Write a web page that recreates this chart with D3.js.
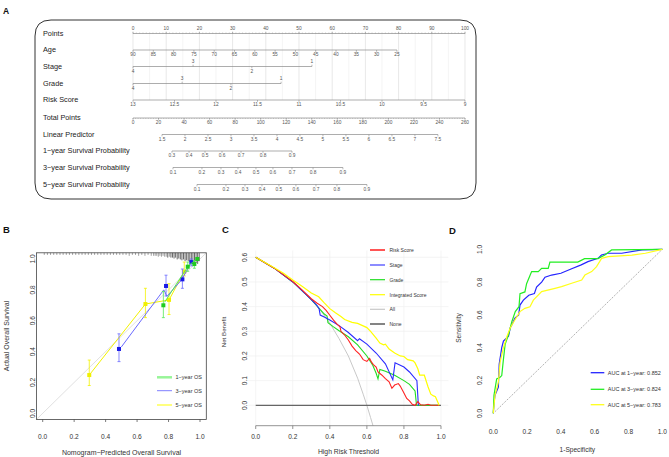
<!DOCTYPE html>
<html><head><meta charset="utf-8">
<script src="https://cdn.jsdelivr.net/npm/d3@7"></script>
<style>body{margin:0;background:#fff}svg{display:block}text{font-family:"Liberation Sans",Arial,sans-serif}</style>
</head><body><svg id="c" width="669" height="457"></svg>
<script>
// ---------------- DATA ----------------
// Panel A: nomogram
const nomoRows = ["Points","Age","Stage","Grade","Risk Score","Total Points","Linear Predictor",
  "1\u2212year Survival Probability","3\u2212year Survival Probability","5\u2212year Survival Probability"];
const pointsTicks = [0,10,20,30,40,50,60,70,80,90,100];
const ageTicks = [90,85,80,75,70,65,60,55,50,45,40,35,30,25];
const agePtsRange = [0,79.5];           // points at age 90 and at age 25
const stageLabels = ["4","3","2","1"];
const stagePts = [0,18.1,35.8,53.9];
const gradeLabels = ["4","3","2","1"];
const gradePts = [0,14.8,29.5,44.6];
const riskTicks = [13,12.5,12,11.5,11,10.5,10,9.5,9];
const totalTicks = [0,20,40,60,80,100,120,140,160,180,200,220,240,260];
const lpTicks = [1.5,2,2.5,3,3.5,4,4.5,5,5.5,6,6.5,7,7.5];
const lpTotalRange = [22.7,238.8];      // total points at LP 1.5 and 7.5
const surv1Labels = ["0.3","0.4","0.5","0.6","0.7","0.8","0.9"];
const surv1Total  = [30.5,43.9,56.4,69.7,84.6,101.8,124.5];
const surv3Labels = ["0.1","0.2","0.3","0.4","0.5","0.6","0.7","0.8","0.9"];
const surv3Total  = [31.3,54.0,68.9,82.2,96.3,109.6,124.5,141.0,164.4];
const surv5Labels = ["0.1","0.2","0.3","0.4","0.5","0.6","0.7","0.8","0.9"];
const surv5Total  = [50.1,72.8,87.7,101.0,114.3,127.6,143.3,159.7,183.2];

// Panel B: calibration
const calTicks = [0,0.2,0.4,0.6,0.8,1.0];
const cal1Pred = [0.767,0.922,0.964,0.983], cal1Obs = [0.70,0.95,0.967,1.0], cal1Lo = [0.62,0.92,0.94,0.99], cal1Hi = [0.79,0.98,0.99,1.0];
const cal1LineX = [0.775,0.89,0.93,0.97], cal1LineY = [0.72,0.90,0.96,0.99];
const cal3Pred = [0.485,0.784,0.888,0.945], cal3Obs = [0.417,0.825,0.868,0.98], cal3Lo = [0.335,0.76,0.81,0.955], cal3Hi = [0.515,0.895,0.935,1.0];
const cal3LineX = [0.50,0.77,0.79,0.884,0.94], cal3LineY = [0.43,0.80,0.758,0.866,0.97];
const cal5Pred = [0.296,0.653,0.803,0.90], cal5Obs = [0.248,0.708,0.735,0.918], cal5Lo = [0.18,0.62,0.64,0.89], cal5Hi = [0.345,0.81,0.84,0.98];
const cal5LineX = [0.296,0.653,0.803,0.90], cal5LineY = [0.248,0.708,0.735,0.918];
const calLegend = ["1\u2212year OS","3\u2212year OS","5\u2212year OS"];
const rugX = [0.01,0.03,0.05,0.07,0.09,0.11,0.13,0.15,0.17,0.19,0.21,0.23,0.25,0.27,0.29,0.31,0.33,0.35,0.37,0.39,0.41,0.43,0.45,0.47,0.49,0.51,0.53,0.55,0.57,0.59,0.61,0.63,0.65,0.67,0.69,
  0.705,0.715,0.725,0.735,0.745,0.755,0.765,0.775,0.785,0.795,0.805,0.815,0.825,0.835,0.845,0.855,0.865,0.875,0.885,0.895,0.905,0.915,0.925,0.935,0.945,0.955,0.965,0.975,0.985,0.995];
const rugN = [1,1,1,1,1,1,1,1,1,1,1,1,1,1,1,1,1,1,1,1,1,1,1,1,1,1,1,2,1,1,2,1,2,1,2,
  2,2,2,3,2,3,2,3,3,4,3,4,4,5,4,6,5,6,7,6,8,7,8,9,10,9,11,10,11,8];

// Panel C: decision curves
const dcaTicksX = [0,0.2,0.4,0.6,0.8,1.0];
const dcaTicksY = [0,0.1,0.2,0.3,0.4,0.5,0.6];
const dcaNames = ["Risk Score","Stage","Grade","Integrated Score","All","None"];
const riskT = [0,0.1,0.2,0.25,0.3,0.33,0.36,0.38,0.40,0.42,0.44,0.455,0.46,0.48,0.50,0.52,0.54,0.56,0.58,0.60,0.615,0.625,0.635,0.65,0.66,0.68,0.70,0.72,0.735,0.75,0.77,0.78,0.80,0.815,0.83,0.845,0.86,0.875,0.89,0.91,0.93,0.945,0.99];
const riskNB = [0.6,0.556,0.502,0.468,0.432,0.415,0.400,0.385,0.365,0.345,0.328,0.318,0.300,0.285,0.265,0.240,0.222,0.208,0.185,0.178,0.19,0.175,0.165,0.155,0.135,0.123,0.108,0.095,0.069,0.082,0.088,0.078,0.050,0.028,0.018,0.004,0.0,0.015,0.002,0.0,0.004,0.0,0.0];
const stageT = [0,0.1,0.2,0.25,0.3,0.33,0.342,0.348,0.37,0.40,0.45,0.50,0.55,0.56,0.60,0.65,0.70,0.74,0.752,0.80,0.83,0.87,0.878,0.88];
const stageNB = [0.6,0.556,0.50,0.465,0.428,0.405,0.392,0.366,0.358,0.346,0.323,0.295,0.262,0.270,0.248,0.212,0.168,0.103,0.172,0.155,0.135,0.10,0.0,0.0];
const gradeT = [0,0.1,0.2,0.25,0.3,0.34,0.37,0.385,0.39,0.42,0.45,0.50,0.55,0.60,0.63,0.65,0.66,0.67,0.70,0.75,0.80,0.83,0.86,0.868,0.99];
const gradeNB = [0.6,0.556,0.50,0.465,0.428,0.395,0.37,0.362,0.335,0.318,0.302,0.278,0.245,0.200,0.165,0.130,0.107,0.145,0.138,0.122,0.100,0.085,0.058,0.0,0.0];
const integT = [0,0.1,0.15,0.2,0.25,0.3,0.34,0.37,0.40,0.43,0.46,0.48,0.52,0.55,0.58,0.60,0.62,0.65,0.67,0.69,0.70,0.72,0.75,0.78,0.80,0.82,0.85,0.86,0.875,0.885,0.91,0.93,0.945,0.96,0.97,0.99];
const integNB = [0.6,0.558,0.535,0.508,0.483,0.455,0.44,0.415,0.392,0.375,0.36,0.348,0.336,0.332,0.322,0.315,0.30,0.272,0.252,0.245,0.248,0.228,0.212,0.20,0.198,0.185,0.180,0.172,0.148,0.122,0.122,0.075,0.045,0.038,0.035,0.0];
const allT = [0,0.1,0.2,0.3,0.35,0.4,0.45,0.5,0.55,0.58,0.6,0.62,0.64];
const allNB = [0.6,0.556,0.5,0.43,0.385,0.333,0.27,0.2,0.11,0.045,0,-0.05,-0.1];
const noneT = [0,1], noneNB = [0,0];

// Panel D: ROC
const rocTicks = [0,0.2,0.4,0.6,0.8,1.0];
const roc1FPR = [0,0.004,0.01,0.03,0.035,0.05,0.06,0.07,0.09,0.10,0.11,0.128,0.15,0.158,0.178,0.21,0.243,0.256,0.286,0.306,0.345,0.40,0.46,0.52,0.56,0.62,0.64,0.68,0.76,0.88,1];
const roc1TPR = [0,0.06,0.11,0.16,0.30,0.40,0.44,0.45,0.47,0.52,0.54,0.58,0.60,0.66,0.69,0.72,0.73,0.77,0.80,0.83,0.843,0.854,0.88,0.905,0.925,0.945,0.965,0.976,0.976,0.996,1];
const roc3FPR = [0,0.004,0.02,0.04,0.05,0.06,0.07,0.09,0.11,0.13,0.152,0.158,0.187,0.197,0.217,0.227,0.266,0.286,0.325,0.335,0.50,0.54,0.62,0.66,0.70,1];
const roc3TPR = [0,0.11,0.21,0.22,0.23,0.33,0.42,0.48,0.56,0.62,0.65,0.73,0.74,0.79,0.84,0.864,0.864,0.884,0.884,0.922,0.922,0.943,0.943,0.965,0.996,1];
const roc5FPR = [0,0.01,0.03,0.04,0.06,0.08,0.10,0.128,0.158,0.187,0.217,0.237,0.286,0.365,0.404,0.464,0.523,0.542,0.582,0.611,0.641,0.68,0.82,0.90,1];
const roc5TPR = [0,0.11,0.19,0.31,0.40,0.467,0.52,0.57,0.62,0.64,0.65,0.69,0.742,0.762,0.772,0.793,0.813,0.843,0.864,0.894,0.945,0.955,0.965,0.976,1];
const rocLegend = ["AUC at 1\u2212year: 0.852","AUC at 3\u2212year: 0.824","AUC at 5\u2212year: 0.783"];

// ---------------- DRAW ----------------
const svg = d3.select("#c");
svg.append("rect").attr("width",669).attr("height",457).attr("fill","#fff");
const zip = (a,b)=>a.map((v,i)=>[v,b[i]]);

function panelLabel(t,x,y,fs){
  svg.append("text").attr("x",x).attr("y",y).attr("font-size",fs).attr("font-weight","bold").attr("fill","#111").text(t);
}
panelLabel("A",3,14,8.5); panelLabel("B",3,233,9.5); panelLabel("C",222,233,9.5); panelLabel("D",449,234,9.5);

// ===== Panel A =====
const gA = svg.append("g");
// rounded frame
(function(){
  const x0=35,y0=20,x1=476,y1=199,r=16;
  gA.append("path").attr("d",`M${x0+r},${y0}H${x1-r}Q${x1},${y0} ${x1},${y0+r}V${y1-r}Q${x1},${y1} ${x1-r},${y1}H${x0+r}Q${x0},${y1} ${x0},${y1-r}V${y0+r}Q${x0},${y0} ${x0+r},${y0}Z`)
    .attr("fill","none").attr("stroke","#333").attr("stroke-width",1);
})();
const px = d3.scaleLinear().domain([0,100]).range([133,465]);
const tx = d3.scaleLinear().domain([0,260]).range([133,465]);
const rowY = [33.5,50,66.5,83.5,100,118,134.5,151,167.5,184.5];
const labY = [33,49,66,83,99.5,117,134,150,167,184];
nomoRows.forEach((r,i)=>{
  gA.append("text").attr("x",43).attr("y",labY[i]+2.6).attr("font-size",7.3).attr("fill","#222").text(r);
});
// vertical grid
const gridPts = d3.range(0,101,5);
gA.selectAll(".vg").data(gridPts).join("line")
  .attr("x1",d=>px(d)).attr("x2",d=>px(d)).attr("y1",rowY[0]).attr("y2",rowY[4])
  .attr("stroke",d=>d%10===0?"#d9d9d9":"#ececec").attr("stroke-width",0.6);

function nomoAxis(y, items, place, minor){
  const xs = items.map(d=>d.x);
  gA.append("line").attr("x1",d3.min(xs)).attr("x2",d3.max(xs)).attr("y1",y).attr("y2",y)
    .attr("stroke","#8a8a8a").attr("stroke-width",0.7);
  if(minor){
    minor.forEach(m=>gA.append("line").attr("x1",m).attr("x2",m).attr("y1",y).attr("y2",place==="above"?y-1:y+1)
      .attr("stroke","#999").attr("stroke-width",0.5));
  }
  items.forEach((d,i)=>{
    const above = place==="above" || (place==="alt" && i%2===1);
    gA.append("line").attr("x1",d.x).attr("x2",d.x).attr("y1",y).attr("y2",above?y-1.8:y+1.8)
      .attr("stroke","#888").attr("stroke-width",0.6);
    gA.append("text").attr("x",d.x).attr("y",above?y-3.6:y+6.2).attr("text-anchor","middle")
      .attr("font-size",4.8).attr("fill","#555").text(d.lab);
  });
}
nomoAxis(rowY[0], pointsTicks.map(v=>({lab:v,x:px(v)})), "above", d3.range(0,101,1).map(px));
const ageS = d3.scaleLinear().domain([ageTicks[0],ageTicks[ageTicks.length-1]]).range(agePtsRange);
nomoAxis(rowY[1], ageTicks.map(v=>({lab:v,x:px(ageS(v))})), "below");
nomoAxis(rowY[2], stageLabels.map((l,i)=>({lab:l,x:px(stagePts[i])})), "alt");
nomoAxis(rowY[3], gradeLabels.map((l,i)=>({lab:l,x:px(gradePts[i])})), "alt");
const riskS = d3.scaleLinear().domain([riskTicks[0],riskTicks[riskTicks.length-1]]).range([0,100]);
nomoAxis(rowY[4], riskTicks.map(v=>({lab:v,x:px(riskS(v))})), "below");
nomoAxis(rowY[5], totalTicks.map(v=>({lab:v,x:tx(v)})), "below", d3.range(0,261,2).map(tx));
const lpS = d3.scaleLinear().domain([lpTicks[0],lpTicks[lpTicks.length-1]]).range(lpTotalRange);
nomoAxis(rowY[6], lpTicks.map(v=>({lab:v,x:tx(lpS(v))})), "below");
nomoAxis(rowY[7], surv1Labels.map((l,i)=>({lab:l,x:tx(surv1Total[i])})), "below");
nomoAxis(rowY[8], surv3Labels.map((l,i)=>({lab:l,x:tx(surv3Total[i])})), "below");
nomoAxis(rowY[9], surv5Labels.map((l,i)=>({lab:l,x:tx(surv5Total[i])})), "below");

// ===== Panel B =====
const gB = svg.append("g");
const bx = d3.scaleLinear().domain([-0.04,1.04]).range([36.4,206.3]);
const by = d3.scaleLinear().domain([-0.04,1.04]).range([419.5,252.8]);
gB.append("line").attr("x1",bx(-0.04)).attr("y1",by(-0.04)).attr("x2",bx(1.04)).attr("y2",by(1.04))
  .attr("stroke","#d8d8d8").attr("stroke-width",0.8);
// riskdist spikes
rugX.forEach((x,i)=>{
  gB.append("line").attr("x1",bx(x)).attr("x2",bx(x)).attr("y1",252.8).attr("y2",252.8+1.2+rugN[i]*0.9)
    .attr("stroke",rugN[i]>3?"#444":"#888").attr("stroke-width",0.8);
});
const lineGen = d3.line();
function calSeries(pred,obs,lo,hi,lx,ly,col,lcol,pcol){
  gB.append("path").attr("d",lineGen(zip(lx,ly).map(d=>[bx(d[0]),by(d[1])]))).attr("fill","none")
    .attr("stroke",lcol).attr("stroke-width",1);
  pred.forEach((p,i)=>{
    gB.append("line").attr("x1",bx(p)).attr("x2",bx(p)).attr("y1",by(lo[i])).attr("y2",by(hi[i])).attr("stroke",lcol).attr("stroke-width",0.8);
    [lo[i],hi[i]].forEach(v=>gB.append("line").attr("x1",bx(p)-1.5).attr("x2",bx(p)+1.5).attr("y1",by(v)).attr("y2",by(v)).attr("stroke",lcol).attr("stroke-width",0.8));
    gB.append("rect").attr("x",bx(p)-2).attr("y",by(obs[i])-2).attr("width",4).attr("height",4).attr("fill",pcol);
  });
}
calSeries(cal5Pred,cal5Obs,cal5Lo,cal5Hi,cal5LineX,cal5LineY,"#ffff00","#f2f200","#f0f000");
calSeries(cal3Pred,cal3Obs,cal3Lo,cal3Hi,cal3LineX,cal3LineY,"#0000ff","#6a6aff","#1a1ae6");
calSeries(cal1Pred,cal1Obs,cal1Lo,cal1Hi,cal1LineX,cal1LineY,"#00ff00","#55e855","#1fcc1f");
gB.append("rect").attr("x",36.4).attr("y",252.8).attr("width",206.3-36.4).attr("height",419.5-252.8)
  .attr("fill","none").attr("stroke","#444").attr("stroke-width",0.8);
calTicks.forEach(t=>{
  gB.append("line").attr("x1",bx(t)).attr("x2",bx(t)).attr("y1",419.5).attr("y2",422).attr("stroke","#444").attr("stroke-width",0.7);
  gB.append("text").attr("x",bx(t)).attr("y",438.5).attr("text-anchor","middle").attr("font-size",6.6).attr("fill","#333").text(t.toFixed(1));
  gB.append("text").attr("transform",`translate(35.3,${by(t)}) rotate(-90)`).attr("text-anchor","middle").attr("font-size",6.6).attr("fill","#333").text(t.toFixed(1));
});
gB.append("text").attr("x",121.5).attr("y",454.5).attr("text-anchor","middle").attr("font-size",7).attr("fill","#333").text("Nomogram\u2212Predicted Overall Survival");
gB.append("text").attr("transform","translate(8.6,336) rotate(-90)").attr("text-anchor","middle").attr("font-size",7).attr("fill","#333").text("Actual Overall Survival");
const calLegCols = ["#98f598","#7f7fff","#ffff55"], calLegW=[2.5,1,1.5], calLegY=[377.3,390.7,405];
calLegend.forEach((l,i)=>{
  gB.append("line").attr("x1",157).attr("x2",172).attr("y1",calLegY[i]).attr("y2",calLegY[i]).attr("stroke",calLegCols[i]).attr("stroke-width",calLegW[i]);
  gB.append("text").attr("x",175.5).attr("y",calLegY[i]+2).attr("font-size",5.5).attr("fill","#333").text(l);
});

// ===== Panel C =====
const gC = svg.append("g");
const cx = d3.scaleLinear().domain([-0.04,1.04]).range([248.3,448.4]);
const cy = d3.scaleLinear().domain([0,0.6]).range([405.3,257.3]);
svg.append("clipPath").attr("id","clipC").append("rect").attr("x",248.3).attr("y",250.5).attr("width",200.1).attr("height",175.2);
dcaTicksX.forEach(t=>gC.append("line").attr("x1",cx(t)).attr("x2",cx(t)).attr("y1",250.5).attr("y2",425.7).attr("stroke","#efefef").attr("stroke-width",0.7));
dcaTicksY.forEach(t=>gC.append("line").attr("x1",248.3).attr("x2",448.4).attr("y1",cy(t)).attr("y2",cy(t)).attr("stroke","#efefef").attr("stroke-width",0.7));
const gCl = gC.append("g").attr("clip-path","url(#clipC)");
const dcaSeries = [[allT,allNB,"#c8c8c8",1],[noneT,noneNB,"#666",1.2],[gradeT,gradeNB,"#22dd22",1.1],[stageT,stageNB,"#2b2bff",1.1],[riskT,riskNB,"#ff2222",1.1],[integT,integNB,"#ffff00",1.2]];
dcaSeries.forEach(s=>{
  gCl.append("path").attr("d",lineGen(zip(s[0],s[1]).map(d=>[cx(d[0]),cy(d[1])]))).attr("fill","none").attr("stroke",s[2]).attr("stroke-width",s[3]);
});
gC.append("line").attr("x1",cx(0)).attr("x2",cx(1)).attr("y1",425.7).attr("y2",425.7).attr("stroke","#777").attr("stroke-width",0.8);
dcaTicksX.forEach(t=>{
  gC.append("line").attr("x1",cx(t)).attr("x2",cx(t)).attr("y1",425.7).attr("y2",429).attr("stroke","#777").attr("stroke-width",0.8);
  gC.append("text").attr("x",cx(t)).attr("y",438.5).attr("text-anchor","middle").attr("font-size",6.6).attr("fill","#333").text(t.toFixed(1));
});
dcaTicksY.forEach(t=>{
  gC.append("text").attr("transform",`translate(247.4,${cy(t)}) rotate(-90)`).attr("text-anchor","middle").attr("font-size",6.6).attr("fill","#333").text(t.toFixed(1));
});
gC.append("text").attr("x",348.5).attr("y",454).attr("text-anchor","middle").attr("font-size",6.8).attr("fill","#333").text("High Risk Threshold");
gC.append("text").attr("transform","translate(225.5,332) rotate(-90)").attr("text-anchor","middle").attr("font-size",6.2).attr("fill","#333").text("Net Benefit");
const dcaLegCols = ["#ff5555","#4040ff","#22dd22","#ffff00","#c8c8c8","#333"], dcaLegY=[250,265,279.7,294.7,309.3,324];
dcaNames.forEach((n,i)=>{
  gC.append("line").attr("x1",370).attr("x2",385).attr("y1",dcaLegY[i]).attr("y2",dcaLegY[i]).attr("stroke",dcaLegCols[i]).attr("stroke-width",i===0?2:1.2);
  gC.append("text").attr("x",389.5).attr("y",dcaLegY[i]+1.8).attr("font-size",5).attr("fill","#333").text(n);
});

// ===== Panel D =====
const gD = svg.append("g");
const dx = d3.scaleLinear().domain([0,1]).range([493.3,662.3]);
const dy = d3.scaleLinear().domain([0,1]).range([413.3,249.3]);
gD.append("line").attr("x1",dx(0)).attr("y1",dy(0)).attr("x2",dx(1)).attr("y2",dy(1)).attr("stroke","#777").attr("stroke-width",0.7).attr("stroke-dasharray","1.2,1.2");
[[roc1FPR,roc1TPR,"#2323ff"],[roc3FPR,roc3TPR,"#22ee22"],[roc5FPR,roc5TPR,"#ffff1a"]].forEach(s=>{
  gD.append("path").attr("d",lineGen(zip(s[0],s[1]).map(d=>[dx(d[0]),dy(d[1])]))).attr("fill","none").attr("stroke",s[2]).attr("stroke-width",1.2);
});
rocTicks.forEach(t=>{
  gD.append("text").attr("x",dx(t)).attr("y",434.3).attr("text-anchor","middle").attr("font-size",6.6).attr("fill","#333").text(t.toFixed(1));
  gD.append("text").attr("transform",`translate(482.3,${dy(t)}) rotate(-90)`).attr("text-anchor","middle").attr("font-size",6.6).attr("fill","#333").text(t.toFixed(1));
});
gD.append("text").attr("x",577.3).attr("y",451.5).attr("text-anchor","middle").attr("font-size",6.6).attr("fill","#333").text("1-Specificity");
gD.append("text").attr("transform","translate(460.8,328) rotate(-90)").attr("text-anchor","middle").attr("font-size",6.6).attr("fill","#333").text("Sensitivity");
const rocLegCols = ["#2323ff","#22ee22","#ffff1a"], rocLegY=[372.7,389.3,404.7];
rocLegend.forEach((l,i)=>{
  gD.append("line").attr("x1",590.7).attr("x2",604.3).attr("y1",rocLegY[i]).attr("y2",rocLegY[i]).attr("stroke",rocLegCols[i]).attr("stroke-width",1.3);
  gD.append("text").attr("x",607.8).attr("y",rocLegY[i]+2).attr("font-size",5.5).attr("fill","#333").text(l);
});
</script></body></html>
